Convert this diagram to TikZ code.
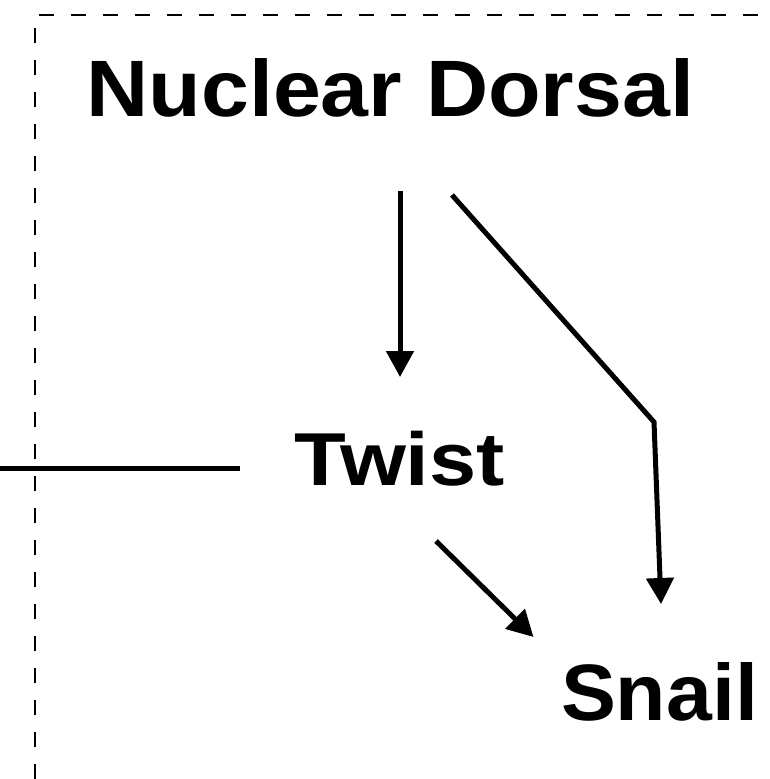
\documentclass[tikz,border=0pt]{standalone}
\usepackage{fontspec}
\setmainfont{Liberation Sans}
\usetikzlibrary{arrows.meta}
\tikzset{
  label text/.style={anchor=base west, inner sep=0pt, outer sep=0pt, font=\bfseries},
  frame line/.style={line width=2.5pt, dash pattern=on 15pt off 17pt},
  link/.style={line width=5pt, -{Triangle[length=26pt,width=27pt]}},
  plain link/.style={line width=5pt},
}
\begin{document}
\begin{tikzpicture}[x=1pt,y=-1pt]
\useasboundingbox (0,0) rectangle (770,779);
% dashed frame
\coordinate (fr1) at (35,779);
\coordinate (fr2) at (35,15);
\coordinate (fr3) at (770,15);
\draw[frame line] (fr1) -- (fr2) -- (fr3);
% texts
\node[label text] (nd) at (86.5,116.7) {\fontsize{80}{90}\selectfont\scalebox{1.076}[1]{Nuclear Dorsal}};
\node[label text] (tw) at (294.5,485) {\fontsize{75}{85}\selectfont\scalebox{1.13}[1]{Twist}};
\node[label text] (sn) at (561,720.5) {\fontsize{80}{90}\selectfont\scalebox{1.03}[1]{Snail}};
% connector endpoints
\coordinate (ndA) at (400,191);
\coordinate (twA) at (400,377);
\coordinate (ndB) at (452,195);
\coordinate (bend) at (654,422);
\coordinate (snB) at (661,604);
\coordinate (twC) at (436,541);
\coordinate (snC) at (533.5,637);
\coordinate (extL) at (0,468);
\coordinate (twL) at (240,468);
\draw[link] (ndA) -- (twA);
\draw[link, line join=miter] (ndB) -- (bend) -- (snB);
\draw[link] (twC) -- (snC);
\draw[plain link] (extL) -- (twL);
\end{tikzpicture}
\end{document}
